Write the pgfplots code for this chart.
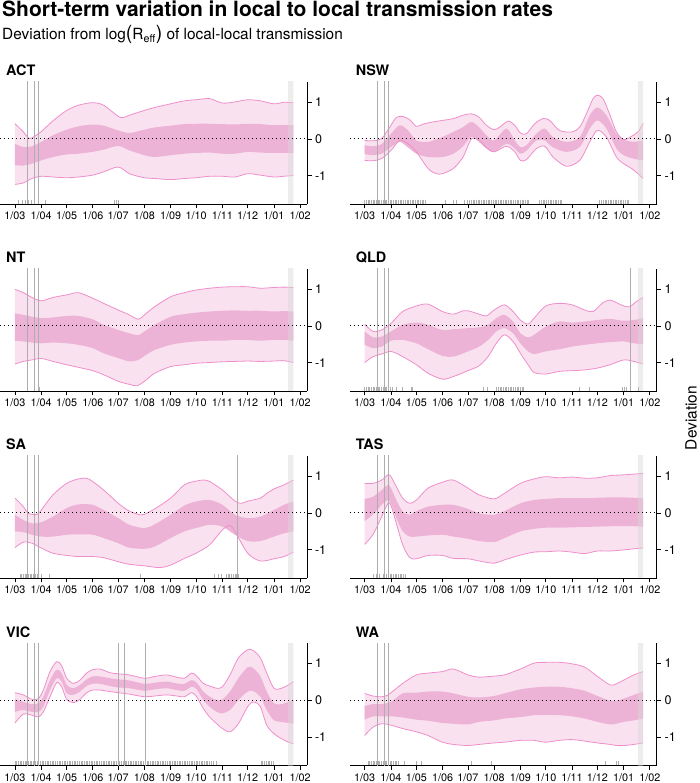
\documentclass[border=0pt]{standalone}
\usepackage{pgfplots}
\pgfplotsset{compat=1.18}
\usepgfplotslibrary{fillbetween}
\usepackage{fontspec}
\setmainfont{TeX Gyre Heros}
\definecolor{bandA}{HTML}{FAE1F0}
\definecolor{bandB}{HTML}{EDB3D6}
\definecolor{bandline}{HTML}{EE8FCB}
\definecolor{vline}{HTML}{ADADAD}
\definecolor{rugc}{HTML}{B0B0B0}
\definecolor{strip}{HTML}{D8D8D8}
\pgfplotsset{
  panel/.style={
    scale only axis, width=307pt, height=122pt,
    xmin=-17.7, xmax=345.1, ymin=-1.76, ymax=1.54,
    axis x line=bottom, axis y line=right,
    axis line style={-, line width=0.9pt, black},
    tick align=outside, major tick length=4.5pt,
    tick style={black, line width=0.8pt},
    xtick={0,31,61,92,122,153,184,214,245,275,306,337},
    xticklabels={1/03,1/04,1/05,1/06,1/07,1/08,1/09,1/10,1/11,1/12,1/01,1/02},
    ytick={-1,0,1}, yticklabels={-1,0,1},
    x tick label style={font=\fontsize{10.8}{12}\selectfont},
    y tick label style={font=\fontsize{12.5}{14}\selectfont},
    title style={font=\bfseries\fontsize{14.4}{16}\selectfont, anchor=base west, at={(0,1)}, inner sep=0pt, xshift=6pt},
    anchor=south west,
  },
  up/.style={bandline, line width=0.8pt, smooth},
  mid/.style={draw=none, smooth},
  zero/.style={black, line width=1pt, dash pattern=on 1pt off 3pt},
  vl/.style={vline, line width=0.6pt},
  strp/.style={draw=none, fill=strip, fill opacity=0.45},
  rug/.style={only marks, mark=|, mark size=2.2pt, rugc, mark options={line width=0.9pt}},
}
\begin{document}
\begin{tikzpicture}
\node[anchor=base west, inner sep=0, font=\bfseries\fontsize{21}{24}\selectfont] at (2pt,766pt) {Short-term variation in local to local transmission rates};
\node[anchor=base west, inner sep=0, font=\fontsize{15.4}{18}\selectfont] at (2pt,743pt) {Deviation from log{\fontsize{19.5}{19.5}\selectfont(}R\textsubscript{eff}{\fontsize{19.5}{19.5}\selectfont)} of local-local transmission};
\node[rotate=90, inner sep=0, font=\fontsize{15.5}{18}\selectfont] at (691pt,365pt) {Deviation};

% ---------------- ACT
\begin{axis}[panel, at={(0pt,579pt)}, title={ACT}]
\addplot[up, name path=u95] coordinates {(0,0.41) (9.9,0.19) (15.8,0.03) (20.1,0.03) (31.1,0.2) (44.9,0.49) (61.1,0.77) (74.9,0.91) (91.8,0.98) (104.8,0.91) (122.1,0.61) (128,0.58) (135.1,0.64) (152.9,0.77) (165.1,0.85) (184,0.95) (200.2,1.03) (213.9,1.06) (230.1,1.09) (245.1,0.97) (260,1.0) (275,1.06) (290,1.03) (306.1,0.95) (318,0.99) (329,0.98)};
\addplot[up, name path=l95] coordinates {(0,-1.23) (9.9,-1.19) (20.1,-1.07) (31.1,-1.01) (44.9,-1.03) (61.1,-1.05) (74.9,-1.03) (91.8,-0.98) (104.8,-0.89) (122.1,-0.76) (135.1,-0.94) (152.9,-1.05) (165.1,-1.07) (184,-1.10) (200.2,-1.07) (213.9,-1.05) (230.1,-1.01) (245.1,-1.01) (260,-1.03) (275,-0.94) (290,-0.98) (306.1,-1.03) (318,-1.01) (329,-0.99)};
\addplot[mid, name path=u50] coordinates {(0,-0.13) (9.9,-0.22) (20.1,-0.20) (31.1,-0.08) (44.9,0.10) (61.1,0.25) (74.9,0.34) (91.8,0.39) (104.8,0.36) (122.1,0.23) (135.1,0.16) (152.9,0.25) (165.1,0.31) (184,0.36) (200.2,0.40) (213.9,0.41) (230.1,0.41) (245.1,0.40) (260,0.39) (275,0.41) (290,0.40) (306.1,0.37) (318,0.38) (329,0.37)};
\addplot[mid, name path=l50] coordinates {(0,-0.71) (9.9,-0.72) (20.1,-0.67) (31.1,-0.58) (44.9,-0.49) (61.1,-0.42) (74.9,-0.40) (91.8,-0.35) (104.8,-0.29) (122.1,-0.19) (135.1,-0.31) (152.9,-0.44) (165.1,-0.49) (184,-0.44) (200.2,-0.40) (213.9,-0.38) (230.1,-0.37) (245.1,-0.40) (260,-0.40) (275,-0.35) (290,-0.37) (306.1,-0.38) (318,-0.38) (329,-0.38)};
\addplot[fill=bandA] fill between[of=u95 and l95];
\addplot[fill=bandB] fill between[of=u50 and l50];
\addplot[strp] coordinates {(322.7,-5) (329,-5) (329,5) (322.7,5) (322.7,-5)};
\addplot[zero] coordinates {(-17.7,0) (345.1,0)};
\addplot[vl] coordinates {(15,-5) (15,5)};
\addplot[vl] coordinates {(22.8,-5) (22.8,5)};
\addplot[vl] coordinates {(28,-5) (28,5)};
\addplot[rug] coordinates {(4,-1.7) (8.7,-1.7) (11.8,-1.7) (15.8,-1.7) (19.7,-1.7) (23.6,-1.7) (27.6,-1.7) (35.5,-1.7) (118,-1.7) (120,-1.7) (122,-1.7)};
\end{axis}

% ---------------- NSW
\begin{axis}[panel, at={(349.7pt,579pt)}, title={NSW}]
\addplot[up, name path=u95] coordinates {(0,-0.04) (9.9,-0.05) (20.1,0.01) (31.1,0.37) (37.4,0.58) (44.9,0.61) (53.2,0.52) (61.1,0.34) (69.0,0.40) (80.8,0.46) (91.8,0.50) (104.8,0.55) (116.2,0.64) (126.1,0.68) (135.1,0.59) (143.8,0.37) (152.9,0.25) (159.6,0.32) (169.4,0.48) (177.3,0.37) (184,0.16) (191.1,0.14) (200.9,0.41) (210.8,0.55) (218.7,0.50) (230.1,0.23) (245.1,0.19) (254.1,0.32) (262,0.68) (269.9,1.09) (275,1.18) (281.7,1.09) (290,0.64) (297.5,0.19) (306.1,-0.02) (315.2,0.07) (323.1,0.19) (329,0.43)};
\addplot[up, name path=l95] coordinates {(0,-0.58) (9.9,-0.59) (20.1,-0.53) (31.1,-0.31) (41.4,-0.04) (51.2,-0.13) (61.1,-0.35) (74.9,-0.80) (84.7,-0.94) (91.8,-0.94) (104.8,-0.80) (116.2,-0.49) (126.1,0.0) (135.1,-0.04) (143.8,-0.23) (152.9,-0.35) (167.5,-0.20) (177.3,-0.35) (184,-0.58) (191.1,-0.56) (202.9,-0.26) (212.8,-0.20) (222.6,-0.49) (238.4,-0.74) (254.1,-0.58) (266,-0.08) (275,0.23) (285.7,0.05) (297.5,-0.49) (306.1,-0.67) (317.2,-0.83) (329,-1.07)};
\addplot[mid, name path=u50] coordinates {(0,-0.17) (9.9,-0.20) (20.1,-0.14) (31.1,0.14) (41.4,0.37) (51.2,0.23) (61.1,-0.04) (74.9,-0.08) (91.8,0.05) (104.8,0.19) (116.2,0.32) (126.1,0.46) (135.1,0.32) (143.8,0.10) (152.9,-0.04) (167.5,0.28) (177.3,-0.04) (184,-0.22) (191.1,-0.17) (202.9,0.14) (212.8,0.28) (222.6,0.05) (238.4,-0.08) (254.1,0.05) (266,0.64) (275,0.85) (285.7,0.64) (297.5,0.14) (306.1,-0.02) (317.2,-0.08) (329,-0.04)};
\addplot[mid, name path=l50] coordinates {(0,-0.41) (9.9,-0.44) (20.1,-0.40) (31.1,-0.22) (41.4,-0.08) (51.2,-0.23) (61.1,-0.40) (74.9,-0.49) (91.8,-0.49) (104.8,-0.40) (116.2,-0.20) (126.1,0.06) (135.1,-0.08) (143.8,-0.26) (152.9,-0.35) (167.5,-0.13) (177.3,-0.26) (184,-0.40) (191.1,-0.32) (202.9,-0.04) (212.8,-0.04) (222.6,-0.23) (238.4,-0.35) (254.1,-0.22) (266,0.28) (275,0.50) (285.7,0.28) (297.5,-0.26) (306.1,-0.44) (317.2,-0.53) (329,-0.58)};
\addplot[fill=bandA] fill between[of=u95 and l95];
\addplot[fill=bandB] fill between[of=u50 and l50];
\addplot[strp] coordinates {(322.7,-5) (329,-5) (329,5) (322.7,5) (322.7,-5)};
\addplot[zero] coordinates {(-17.7,0) (345.1,0)};
\addplot[vl] coordinates {(15,-5) (15,5)};
\addplot[vl] coordinates {(22.8,-5) (22.8,5)};
\addplot[vl] coordinates {(28,-5) (28,5)};
\addplot[rug] coordinates {(0,-1.7) (2,-1.7) (4,-1.7) (6,-1.7) (8,-1.7) (10,-1.7) (12,-1.7) (14,-1.7) (16,-1.7) (18,-1.7) (20,-1.7) (22,-1.7) (24,-1.7) (26,-1.7) (28,-1.7) (30,-1.7) (32,-1.7) (34,-1.7) (36,-1.7) (38,-1.7) (40,-1.7) (42,-1.7) (44,-1.7) (46,-1.7) (48,-1.7) (50,-1.7) (52,-1.7) (54,-1.7) (56,-1.7) (58,-1.7) (60,-1.7) (62,-1.7) (64,-1.7) (66,-1.7) (68,-1.7) (70,-1.7) (72,-1.7) (96,-1.7) (105,-1.7) (108,-1.7) (118,-1.7) (122,-1.7) (124,-1.7) (126,-1.7) (128,-1.7) (130,-1.7) (132,-1.7) (134,-1.7) (136,-1.7) (138,-1.7) (140,-1.7) (142,-1.7) (144,-1.7) (146,-1.7) (148,-1.7) (150,-1.7) (152,-1.7) (154,-1.7) (156,-1.7) (158,-1.7) (160,-1.7) (162,-1.7) (164,-1.7) (166,-1.7) (168,-1.7) (170,-1.7) (172,-1.7) (174,-1.7) (176,-1.7) (178,-1.7) (180,-1.7) (182,-1.7) (184,-1.7) (186,-1.7) (188,-1.7) (190,-1.7) (192,-1.7) (194,-1.7) (207,-1.7) (209,-1.7) (211,-1.7) (213,-1.7) (215,-1.7) (217,-1.7) (219,-1.7) (221,-1.7) (223,-1.7) (225,-1.7) (227,-1.7) (229,-1.7) (231,-1.7) (233,-1.7) (278,-1.7) (280,-1.7) (282,-1.7) (284,-1.7) (286,-1.7) (288,-1.7) (290,-1.7) (292,-1.7) (294,-1.7) (296,-1.7) (298,-1.7) (300,-1.7) (302,-1.7) (304,-1.7) (306,-1.7) (308,-1.7) (310,-1.7) (312,-1.7)};
\end{axis}

% ---------------- NT
\begin{axis}[panel, at={(0pt,392pt)}, title={NT}]
\addplot[up, name path=u95] coordinates {(0,0.99) (9.9,0.90) (20.1,0.77) (31.1,0.68) (44.9,0.77) (61.1,0.84) (74.9,0.90) (91.8,0.75) (104.8,0.61) (122.1,0.43) (135.1,0.30) (145.8,0.18) (152.9,0.30) (165.1,0.52) (184,0.79) (200.2,0.90) (213.9,0.97) (230.1,1.02) (245.1,1.05) (260,1.06) (275,1.06) (290,1.02) (306.1,1.04) (318,1.05) (329,1.04)};
\addplot[up, name path=l95] coordinates {(0,-1.03) (9.9,-0.96) (20.1,-0.92) (31.1,-0.88) (44.9,-0.96) (61.1,-1.05) (74.9,-1.12) (91.8,-1.21) (104.8,-1.32) (122.1,-1.50) (135.1,-1.58) (143.8,-1.62) (152.9,-1.50) (165.1,-1.28) (184,-1.10) (200.2,-1.05) (213.9,-1.01) (230.1,-0.99) (245.1,-0.97) (260,-0.96) (275,-0.95) (290,-0.96) (306.1,-0.95) (318,-0.94) (329,-0.99)};
\addplot[mid, name path=u50] coordinates {(0,0.34) (9.9,0.30) (20.1,0.25) (31.1,0.21) (44.9,0.23) (61.1,0.27) (74.9,0.27) (91.8,0.18) (104.8,0.03) (122.1,-0.11) (135.1,-0.20) (145.8,-0.25) (152.9,-0.15) (165.1,0.03) (184,0.25) (200.2,0.32) (213.9,0.36) (230.1,0.39) (245.1,0.41) (260,0.42) (275,0.41) (290,0.41) (306.1,0.39) (318,0.40) (329,0.39)};
\addplot[mid, name path=l50] coordinates {(0,-0.40) (9.9,-0.42) (20.1,-0.45) (31.1,-0.47) (44.9,-0.45) (61.1,-0.47) (74.9,-0.51) (91.8,-0.60) (104.8,-0.74) (122.1,-0.87) (135.1,-0.96) (145.8,-0.92) (152.9,-0.81) (165.1,-0.65) (184,-0.51) (200.2,-0.45) (213.9,-0.42) (230.1,-0.40) (245.1,-0.40) (260,-0.38) (275,-0.38) (290,-0.40) (306.1,-0.38) (318,-0.38) (329,-0.40)};
\addplot[fill=bandA] fill between[of=u95 and l95];
\addplot[fill=bandB] fill between[of=u50 and l50];
\addplot[strp] coordinates {(322.7,-5) (329,-5) (329,5) (322.7,5) (322.7,-5)};
\addplot[zero] coordinates {(-17.7,0) (345.1,0)};
\addplot[vl] coordinates {(15,-5) (15,5)};
\addplot[vl] coordinates {(22.8,-5) (22.8,5)};
\addplot[vl] coordinates {(28,-5) (28,5)};
\addplot[rug] coordinates {(27.6,-1.7) (28.6,-1.7)};
\end{axis}

% ---------------- QLD
\begin{axis}[panel, at={(349.7pt,392pt)}, title={QLD}]
\addplot[up, name path=u95] coordinates {(0,0.05) (9.9,-0.15) (20.1,-0.11) (31.1,0.07) (44.9,0.39) (61.1,0.54) (74.9,0.59) (91.8,0.39) (104.8,0.32) (116.2,0.41) (122.1,0.41) (135.1,0.32) (143.8,0.27) (152.9,0.43) (165.1,0.57) (175.3,0.39) (184,0.16) (193.1,0.05) (200.2,0.21) (213.9,0.54) (230.1,0.61) (245.1,0.57) (260,0.43) (269.9,0.39) (281.7,0.63) (290,0.70) (297.5,0.63) (306.1,0.54) (313.2,0.52) (321.1,0.66) (329,0.77)};
\addplot[up, name path=l95] coordinates {(0,-0.99) (9.9,-0.83) (20.1,-0.76) (31.1,-0.69) (44.9,-0.83) (61.1,-1.05) (74.9,-1.28) (91.8,-1.44) (104.8,-1.37) (122.1,-1.21) (135.1,-1.08) (145.8,-0.83) (155.6,-0.47) (165.1,-0.24) (175.3,-0.42) (184,-0.74) (193.1,-1.05) (200.2,-1.26) (213.9,-1.30) (230.1,-1.23) (245.1,-1.21) (260,-1.19) (275,-1.14) (290,-1.05) (306.1,-0.92) (318,-0.96) (329,-1.03)};
\addplot[mid, name path=u50] coordinates {(0,-0.15) (9.9,-0.31) (20.1,-0.29) (31.1,-0.15) (44.9,0.03) (61.1,0.09) (74.9,0.03) (91.8,-0.11) (104.8,-0.09) (122.1,-0.06) (135.1,-0.04) (145.8,0.03) (155.6,0.21) (165.1,0.30) (175.3,0.12) (184,-0.20) (193.1,-0.31) (200.2,-0.24) (213.9,-0.02) (230.1,0.12) (245.1,0.09) (260,0.12) (275,0.16) (290,0.19) (306.1,0.14) (318,0.16) (329,0.21)};
\addplot[mid, name path=l50] coordinates {(0,-0.51) (9.9,-0.60) (20.1,-0.56) (31.1,-0.40) (44.9,-0.38) (61.1,-0.47) (74.9,-0.63) (91.8,-0.81) (104.8,-0.83) (122.1,-0.69) (135.1,-0.56) (145.8,-0.38) (155.6,-0.15) (165.1,-0.06) (175.3,-0.20) (184,-0.47) (193.1,-0.69) (200.2,-0.76) (213.9,-0.69) (230.1,-0.63) (245.1,-0.56) (260,-0.51) (275,-0.47) (290,-0.44) (306.1,-0.42) (318,-0.47) (329,-0.49)};
\addplot[fill=bandA] fill between[of=u95 and l95];
\addplot[fill=bandB] fill between[of=u50 and l50];
\addplot[strp] coordinates {(322.7,-5) (329,-5) (329,5) (322.7,5) (322.7,-5)};
\addplot[zero] coordinates {(-17.7,0) (345.1,0)};
\addplot[vl] coordinates {(15,-5) (15,5)};
\addplot[vl] coordinates {(22.8,-5) (22.8,5)};
\addplot[vl] coordinates {(28,-5) (28,5)};
\addplot[vl] coordinates {(314,-5) (314,5)};
\addplot[rug] coordinates {(0,-1.7) (2,-1.7) (4,-1.7) (6,-1.7) (8,-1.7) (10,-1.7) (12,-1.7) (14,-1.7) (16,-1.7) (18,-1.7) (20,-1.7) (22,-1.7) (24,-1.7) (26,-1.7) (28,-1.7) (30,-1.7) (33,-1.7) (37,-1.7) (45,-1.7) (55,-1.7) (57,-1.7) (140,-1.7) (145,-1.7) (156,-1.7) (158,-1.7) (160,-1.7) (162,-1.7) (164,-1.7) (166,-1.7) (168,-1.7) (170,-1.7) (172,-1.7) (174,-1.7) (176,-1.7) (178,-1.7) (180,-1.7) (182,-1.7) (184,-1.7) (186,-1.7) (188,-1.7) (254,-1.7) (266,-1.7) (305,-1.7) (307,-1.7) (309,-1.7) (323,-1.7)};
\end{axis}

% ---------------- SA
\begin{axis}[panel, at={(0pt,205pt)}, title={SA}]
\addplot[up, name path=u95] coordinates {(0,0.40) (9.9,0.17) (15.8,-0.01) (25.6,-0.04) (31.1,0.08) (44.9,0.49) (61.1,0.80) (74.9,0.92) (84.7,0.94) (91.8,0.85) (104.8,0.62) (122.1,0.26) (135.1,0.05) (147.8,-0.05) (152.9,-0.04) (165.1,0.11) (184,0.40) (200.2,0.76) (213.9,0.86) (222.6,0.89) (230.1,0.85) (245.1,0.62) (260,0.32) (267.9,0.26) (275,0.32) (290,0.40) (297.5,0.53) (306.1,0.65) (318,0.76) (329,0.89)};
\addplot[up, name path=l95] coordinates {(0,-0.94) (9.9,-0.79) (20.1,-0.82) (31.1,-0.95) (44.9,-1.09) (61.1,-1.15) (74.9,-1.18) (91.8,-1.18) (104.8,-1.21) (122.1,-1.32) (135.1,-1.39) (152.9,-1.43) (171.4,-1.48) (184,-1.41) (200.2,-1.23) (213.9,-1.09) (230.1,-0.86) (245.1,-0.46) (254.1,-0.34) (260,-0.50) (275,-1.09) (290,-1.30) (306.1,-1.24) (318,-1.18) (329,-1.06)};
\addplot[mid, name path=u50] coordinates {(0,-0.05) (9.9,-0.19) (20.1,-0.28) (31.1,-0.25) (44.9,-0.10) (61.1,0.13) (74.9,0.23) (91.8,0.22) (104.8,0.08) (122.1,-0.14) (135.1,-0.32) (152.9,-0.41) (165.1,-0.31) (184,-0.05) (200.2,0.20) (213.9,0.31) (230.1,0.35) (245.1,0.22) (260,-0.05) (275,-0.14) (290,-0.10) (306.1,0.08) (318,0.22) (329,0.31)};
\addplot[mid, name path=l50] coordinates {(0,-0.50) (9.9,-0.52) (20.1,-0.59) (31.1,-0.64) (44.9,-0.64) (61.1,-0.59) (74.9,-0.58) (91.8,-0.59) (104.8,-0.68) (122.1,-0.82) (135.1,-0.94) (152.9,-0.97) (165.1,-0.91) (184,-0.68) (200.2,-0.50) (213.9,-0.41) (230.1,-0.32) (245.1,-0.37) (260,-0.59) (275,-0.76) (290,-0.76) (306.1,-0.64) (318,-0.55) (329,-0.50)};
\addplot[fill=bandA] fill between[of=u95 and l95];
\addplot[fill=bandB] fill between[of=u50 and l50];
\addplot[strp] coordinates {(322.7,-5) (329,-5) (329,5) (322.7,5) (322.7,-5)};
\addplot[zero] coordinates {(-17.7,0) (345.1,0)};
\addplot[vl] coordinates {(15,-5) (15,5)};
\addplot[vl] coordinates {(22.8,-5) (22.8,5)};
\addplot[vl] coordinates {(28,-5) (28,5)};
\addplot[vl] coordinates {(263.2,-5) (263.2,5)};
\addplot[rug] coordinates {(6,-1.7) (8,-1.7) (10,-1.7) (12,-1.7) (14,-1.7) (16,-1.7) (18,-1.7) (20,-1.7) (22,-1.7) (24,-1.7) (26,-1.7) (28,-1.7) (31.5,-1.7) (41,-1.7) (148,-1.7) (236,-1.7) (240,-1.7) (244,-1.7) (250,-1.7) (252,-1.7) (254,-1.7) (256,-1.7) (258,-1.7) (260,-1.7) (262,-1.7) (264,-1.7)};
\end{axis}

% ---------------- TAS
\begin{axis}[panel, at={(349.7pt,205pt)}, title={TAS}]
\addplot[up, name path=u95] coordinates {(0,0.80) (9.9,0.80) (20.1,0.89) (27.6,1.03) (31.1,0.98) (37.4,0.71) (44.9,0.40) (53.2,0.26) (61.1,0.35) (74.9,0.67) (91.8,0.83) (104.8,0.89) (122.1,0.67) (135.1,0.49) (152.9,0.38) (165.1,0.53) (184,0.80) (200.2,0.92) (213.9,0.98) (230.1,0.95) (245.1,0.97) (260,0.94) (275,0.95) (290,1.01) (306.1,1.03) (318,1.05) (329,1.07)};
\addplot[up, name path=l95] coordinates {(0,-0.85) (9.9,-0.58) (20.1,-0.10) (27.6,0.26) (31.1,0.20) (37.4,-0.28) (44.9,-0.86) (53.2,-1.21) (61.1,-1.24) (74.9,-1.15) (91.8,-1.15) (104.8,-1.23) (122.1,-1.24) (135.1,-1.30) (152.9,-1.36) (165.1,-1.27) (184,-1.14) (200.2,-1.06) (213.9,-1.05) (230.1,-1.03) (245.1,-1.06) (260,-1.10) (275,-1.03) (290,-1.03) (306.1,-1.00) (318,-0.97) (329,-0.95)};
\addplot[mid, name path=u50] coordinates {(0,0.38) (9.9,0.44) (20.1,0.62) (27.6,0.76) (31.1,0.67) (37.4,0.35) (44.9,0.04) (53.2,-0.05) (61.1,0.05) (74.9,0.17) (91.8,0.22) (104.8,0.22) (122.1,0.11) (135.1,-0.01) (152.9,-0.05) (165.1,0.05) (184,0.26) (200.2,0.35) (213.9,0.38) (230.1,0.40) (245.1,0.40) (260,0.40) (275,0.41) (290,0.42) (306.1,0.42) (318,0.41) (329,0.40)};
\addplot[mid, name path=l50] coordinates {(0,-0.22) (9.9,-0.04) (20.1,0.22) (27.6,0.35) (31.1,0.26) (37.4,-0.14) (44.9,-0.50) (53.2,-0.64) (61.1,-0.64) (74.9,-0.61) (91.8,-0.59) (104.8,-0.64) (122.1,-0.70) (135.1,-0.76) (152.9,-0.79) (165.1,-0.68) (184,-0.50) (200.2,-0.43) (213.9,-0.40) (230.1,-0.40) (245.1,-0.39) (260,-0.38) (275,-0.37) (290,-0.36) (306.1,-0.36) (318,-0.36) (329,-0.37)};
\addplot[fill=bandA] fill between[of=u95 and l95];
\addplot[fill=bandB] fill between[of=u50 and l50];
\addplot[strp] coordinates {(322.7,-5) (329,-5) (329,5) (322.7,5) (322.7,-5)};
\addplot[zero] coordinates {(-17.7,0) (345.1,0)};
\addplot[vl] coordinates {(15,-5) (15,5)};
\addplot[vl] coordinates {(22.8,-5) (22.8,5)};
\addplot[vl] coordinates {(28,-5) (28,5)};
\addplot[rug] coordinates {(10,-1.7) (14,-1.7) (18,-1.7) (22,-1.7) (26,-1.7) (28,-1.7) (30,-1.7) (32,-1.7) (34,-1.7) (36,-1.7) (38,-1.7) (40,-1.7) (42,-1.7) (44,-1.7) (46,-1.7) (48,-1.7)};
\end{axis}

% ---------------- VIC
\begin{axis}[panel, at={(0pt,17.5pt)}, title={VIC}]
\addplot[up, name path=u95] coordinates {(0,0.21) (9.9,0.15) (20.1,0.03) (27.6,0.05) (33.5,0.28) (41.4,0.78) (49.3,1.05) (55.2,0.94) (61.1,0.60) (69.0,0.46) (76.8,0.55) (84.7,0.74) (91.8,0.83) (100.5,0.85) (112.3,0.75) (122.1,0.72) (135.1,0.69) (152.9,0.60) (165.1,0.65) (179.3,0.69) (191.1,0.63) (200.2,0.60) (208.8,0.74) (214.7,0.66) (222.6,0.46) (230.1,0.39) (238.4,0.33) (245.1,0.37) (254.1,0.69) (264,1.15) (275,1.37) (281.7,1.35) (290,1.15) (297.5,0.74) (306.1,0.33) (315.2,0.33) (323.1,0.42) (329,0.51)};
\addplot[up, name path=l95] coordinates {(0,-0.61) (9.9,-0.37) (20.1,-0.40) (27.6,-0.45) (33.5,-0.31) (41.4,0.10) (49.3,0.48) (55.2,0.37) (61.1,0.03) (69.0,-0.06) (76.8,0.03) (84.7,0.21) (91.8,0.28) (100.5,0.28) (112.3,0.24) (122.1,0.21) (135.1,0.17) (152.9,0.10) (165.1,0.12) (179.3,0.15) (191.1,0.12) (200.2,0.10) (208.8,0.21) (214.7,0.10) (222.6,-0.22) (230.1,-0.45) (238.4,-0.63) (245.1,-0.76) (254.1,-0.85) (264,-0.63) (275,-0.17) (281.7,-0.04) (290,-0.17) (297.5,-0.67) (306.1,-0.90) (315.2,-1.04) (323.1,-1.13) (329,-1.17)};
\addplot[mid, name path=u50] coordinates {(0,0.03) (9.9,-0.04) (20.1,-0.10) (27.6,-0.08) (33.5,0.10) (41.4,0.55) (49.3,0.83) (55.2,0.74) (61.1,0.42) (69.0,0.33) (76.8,0.42) (84.7,0.57) (91.8,0.65) (100.5,0.65) (112.3,0.60) (122.1,0.57) (135.1,0.54) (152.9,0.45) (165.1,0.48) (179.3,0.51) (191.1,0.46) (200.2,0.45) (208.8,0.55) (214.7,0.48) (222.6,0.24) (230.1,0.10) (238.4,0.01) (245.1,0.03) (254.1,0.24) (264,0.60) (275,0.90) (281.7,0.87) (290,0.65) (297.5,0.24) (306.1,-0.08) (315.2,-0.10) (323.1,-0.04) (329,0.01)};
\addplot[mid, name path=l50] coordinates {(0,-0.31) (9.9,-0.26) (20.1,-0.31) (27.6,-0.31) (33.5,-0.17) (41.4,0.28) (49.3,0.60) (55.2,0.51) (61.1,0.19) (69.0,0.15) (76.8,0.24) (84.7,0.39) (91.8,0.45) (100.5,0.45) (112.3,0.39) (122.1,0.35) (135.1,0.33) (152.9,0.26) (165.1,0.30) (179.3,0.33) (191.1,0.28) (200.2,0.26) (208.8,0.37) (214.7,0.30) (222.6,0.01) (230.1,-0.17) (238.4,-0.31) (245.1,-0.35) (254.1,-0.26) (264,0.01) (275,0.24) (281.7,0.25) (290,0.10) (297.5,-0.26) (306.1,-0.54) (315.2,-0.58) (323.1,-0.61) (329,-0.63)};
\addplot[fill=bandA] fill between[of=u95 and l95];
\addplot[fill=bandB] fill between[of=u50 and l50];
\addplot[strp] coordinates {(322.7,-5) (329,-5) (329,5) (322.7,5) (322.7,-5)};
\addplot[zero] coordinates {(-17.7,0) (345.1,0)};
\addplot[vl] coordinates {(15,-5) (15,5)};
\addplot[vl] coordinates {(22.8,-5) (22.8,5)};
\addplot[vl] coordinates {(28,-5) (28,5)};
\addplot[vl] coordinates {(121.7,-5) (121.7,5)};
\addplot[vl] coordinates {(128.8,-5) (128.8,5)};
\addplot[vl] coordinates {(153.7,-5) (153.7,5)};
\addplot[rug] coordinates {(0,-1.7) (2,-1.7) (4,-1.7) (6,-1.7) (8,-1.7) (10,-1.7) (12,-1.7) (14,-1.7) (16,-1.7) (18,-1.7) (20,-1.7) (22,-1.7) (24,-1.7) (26,-1.7) (28,-1.7) (30,-1.7) (32,-1.7) (34,-1.7) (36,-1.7) (38,-1.7) (40,-1.7) (42,-1.7) (44,-1.7) (46,-1.7) (48,-1.7) (50,-1.7) (52,-1.7) (54,-1.7) (56,-1.7) (58,-1.7) (60,-1.7) (62,-1.7) (64,-1.7) (66,-1.7) (68,-1.7) (70,-1.7) (72,-1.7) (74,-1.7) (76,-1.7) (78,-1.7) (80,-1.7) (82,-1.7) (84,-1.7) (86,-1.7) (88,-1.7) (90,-1.7) (92,-1.7) (94,-1.7) (96,-1.7) (98,-1.7) (100,-1.7) (102,-1.7) (104,-1.7) (106,-1.7) (108,-1.7) (110,-1.7) (112,-1.7) (114,-1.7) (116,-1.7) (118,-1.7) (120,-1.7) (122,-1.7) (124,-1.7) (126,-1.7) (128,-1.7) (130,-1.7) (132,-1.7) (134,-1.7) (136,-1.7) (138,-1.7) (140,-1.7) (142,-1.7) (144,-1.7) (146,-1.7) (148,-1.7) (150,-1.7) (152,-1.7) (154,-1.7) (156,-1.7) (158,-1.7) (160,-1.7) (162,-1.7) (164,-1.7) (166,-1.7) (168,-1.7) (170,-1.7) (172,-1.7) (174,-1.7) (176,-1.7) (178,-1.7) (180,-1.7) (182,-1.7) (184,-1.7) (186,-1.7) (188,-1.7) (190,-1.7) (192,-1.7) (194,-1.7) (196,-1.7) (198,-1.7) (200,-1.7) (202,-1.7) (204,-1.7) (206,-1.7) (208,-1.7) (210,-1.7) (212,-1.7) (214,-1.7) (216,-1.7) (218,-1.7) (220,-1.7) (222,-1.7) (224,-1.7) (226,-1.7) (228,-1.7) (230,-1.7) (232,-1.7) (234,-1.7) (238,-1.7) (291,-1.7) (293,-1.7) (295,-1.7) (297,-1.7) (299,-1.7) (301,-1.7) (303,-1.7) (305,-1.7)};
\end{axis}

% ---------------- WA
\begin{axis}[panel, at={(349.7pt,17.5pt)}, title={WA}]
\addplot[up, name path=u95] coordinates {(0,0.19) (9.9,0.12) (20.1,0.10) (27.6,0.15) (44.9,0.46) (61.1,0.69) (74.9,0.74) (91.8,0.78) (104.8,0.85) (122.1,0.69) (135.1,0.63) (152.9,0.66) (165.1,0.69) (184,0.85) (200.2,1.01) (213.9,1.03) (230.1,1.03) (245.1,0.99) (260,0.90) (275,0.65) (290,0.42) (297.5,0.45) (306.1,0.55) (318,0.69) (329,0.78)};
\addplot[up, name path=l95] coordinates {(0,-0.95) (9.9,-0.72) (20.1,-0.63) (31.1,-0.67) (44.9,-0.76) (61.1,-0.85) (74.9,-0.95) (91.8,-1.13) (104.8,-1.19) (122.1,-1.22) (135.1,-1.19) (152.9,-1.15) (165.1,-1.13) (184,-1.08) (200.2,-1.08) (213.9,-1.13) (230.1,-1.08) (245.1,-1.06) (260,-1.10) (275,-1.15) (290,-1.19) (297.5,-1.22) (306.1,-1.22) (318,-1.19) (329,-1.15)};
\addplot[mid, name path=u50] coordinates {(0,-0.15) (9.9,-0.10) (20.1,-0.10) (31.1,-0.04) (44.9,0.19) (61.1,0.21) (74.9,0.24) (91.8,0.24) (104.8,0.19) (122.1,0.10) (135.1,0.08) (152.9,0.12) (165.1,0.19) (184,0.30) (200.2,0.35) (213.9,0.37) (230.1,0.37) (245.1,0.33) (260,0.26) (275,0.12) (290,-0.01) (297.5,-0.01) (306.1,0.05) (318,0.15) (329,0.24)};
\addplot[mid, name path=l50] coordinates {(0,-0.52) (9.9,-0.43) (20.1,-0.43) (31.1,-0.43) (44.9,-0.46) (61.1,-0.52) (74.9,-0.55) (91.8,-0.61) (104.8,-0.63) (122.1,-0.65) (135.1,-0.58) (152.9,-0.54) (165.1,-0.49) (184,-0.45) (200.2,-0.40) (213.9,-0.40) (230.1,-0.40) (245.1,-0.43) (260,-0.49) (275,-0.58) (290,-0.65) (297.5,-0.63) (306.1,-0.58) (318,-0.54) (329,-0.49)};
\addplot[fill=bandA] fill between[of=u95 and l95];
\addplot[fill=bandB] fill between[of=u50 and l50];
\addplot[strp] coordinates {(322.7,-5) (329,-5) (329,5) (322.7,5) (322.7,-5)};
\addplot[zero] coordinates {(-17.7,0) (345.1,0)};
\addplot[vl] coordinates {(15,-5) (15,5)};
\addplot[vl] coordinates {(22.8,-5) (22.8,5)};
\addplot[vl] coordinates {(28,-5) (28,5)};
\addplot[rug] coordinates {(4,-1.7) (6,-1.7) (8,-1.7) (10,-1.7) (12,-1.7) (14,-1.7) (16,-1.7) (18,-1.7) (20,-1.7) (22,-1.7) (24,-1.7) (26,-1.7) (28,-1.7) (30,-1.7) (32,-1.7) (34,-1.7) (36,-1.7) (38,-1.7) (40,-1.7) (47,-1.7) (61,-1.7) (67,-1.7) (126,-1.7) (150,-1.7) (284,-1.7) (297,-1.7) (300,-1.7)};
\end{axis}
\pgfresetboundingbox
\useasboundingbox (0,0) rectangle (699pt,783pt);
\end{tikzpicture}
\end{document}
